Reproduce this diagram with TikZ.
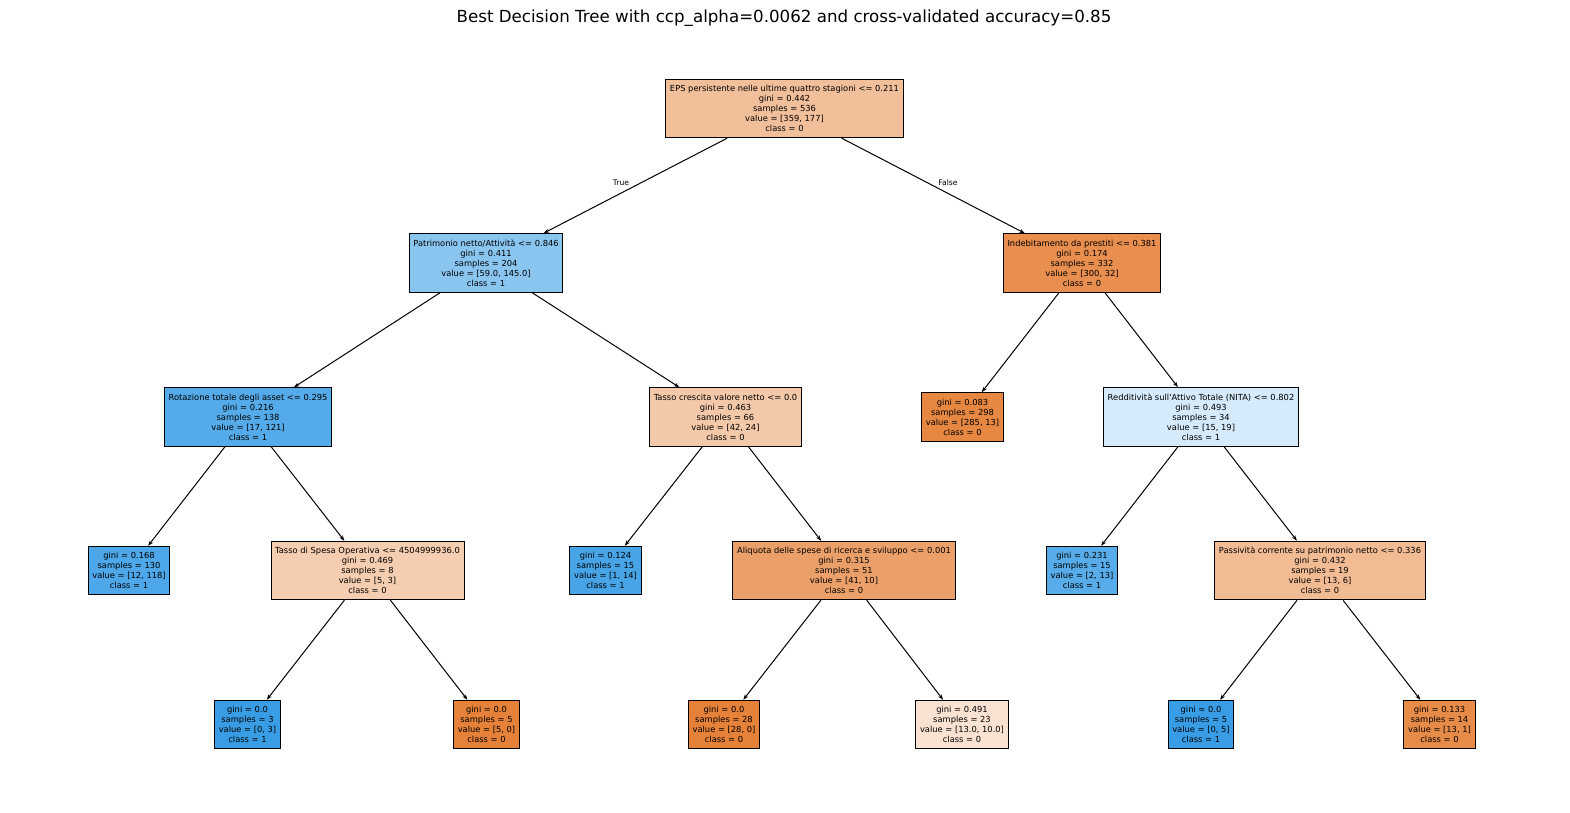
\documentclass[tikz,border=0pt]{standalone}
\usepackage{fontspec}
\setmainfont{DejaVu Sans}[Ligatures=TeXOff]
\usepackage{xcolor}
\definecolor{cZero}{HTML}{E58139}
\definecolor{cOne}{HTML}{399DE5}
\usepackage{tikz}
\usetikzlibrary{arrows.meta}
\tikzset{
  node-box/.style={draw=black,line width=0.72pt,align=center,
    font=\fontsize{6}{7.2}\selectfont,inner xsep=3pt,inner ysep=4.3pt},
  node-zero/.style={fill=cZero!#1!white},
  node-one/.style={fill=cOne!#1!white},
  arrow/.style={-{Stealth[length=1.4mm,width=1mm]},line width=0.72pt},
  edge-label/.style={font=\fontsize{5.5}{6.6}\selectfont},
}

\begin{document}
\begin{tikzpicture}[x=0.72pt,y=-0.72pt]
  \useasboundingbox (0,0) rectangle (1570,812);
  \node[font=\fontsize{12}{14.4}\selectfont] (title) at (784,18)
    {Best Decision Tree with ccp\_alpha=0.0062 and cross-validated accuracy=0.85};
  % livello 0
  \node[node-box,node-zero=50.7] (eps) at (784.5,108.5)
    {EPS persistente nelle ultime quattro stagioni <= 0.211\\gini = 0.442\\samples = 536\\value = [359, 177]\\class = 0};
  % livello 1
  \node[node-box,node-one=59.3] (pat) at (486,263)
    {Patrimonio netto/Attività <= 0.846\\gini = 0.411\\samples = 204\\value = [59.0, 145.0]\\class = 1};
  \node[node-box,node-zero=89.3] (ind) at (1082,263)
    {Indebitamento da prestiti <= 0.381\\gini = 0.174\\samples = 332\\value = [300, 32]\\class = 0};
  % livello 2
  \node[node-box,node-one=85.9] (rot) at (248,417)
    {Rotazione totale degli asset <= 0.295\\gini = 0.216\\samples = 138\\value = [17, 121]\\class = 1};
  \node[node-box,node-zero=42.9] (tcv) at (725.5,417)
    {Tasso crescita valore netto <= 0.0\\gini = 0.463\\samples = 66\\value = [42, 24]\\class = 0};
  \node[node-box,node-zero=95.4] (l298) at (962.5,417)
    {gini = 0.083\\samples = 298\\value = [285, 13]\\class = 0};
  \node[node-box,node-one=21.1] (red) at (1201,417)
    {Redditività sull'Attivo Totale (NITA) <= 0.802\\gini = 0.493\\samples = 34\\value = [15, 19]\\class = 1};
  % livello 3
  \node[node-box,node-one=89.8] (l130) at (129,570.5)
    {gini = 0.168\\samples = 130\\value = [12, 118]\\class = 1};
  \node[node-box,node-zero=40] (tso) at (367.5,570.5)
    {Tasso di Spesa Operativa <= 4504999936.0\\gini = 0.469\\samples = 8\\value = [5, 3]\\class = 0};
  \node[node-box,node-one=92.9] (l15a) at (605.5,570.5)
    {gini = 0.124\\samples = 15\\value = [1, 14]\\class = 1};
  \node[node-box,node-zero=75.6] (ali) at (844,570.5)
    {Aliquota delle spese di ricerca e sviluppo <= 0.001\\gini = 0.315\\samples = 51\\value = [41, 10]\\class = 0};
  \node[node-box,node-one=84.6] (l15b) at (1082,570.5)
    {gini = 0.231\\samples = 15\\value = [2, 13]\\class = 1};
  \node[node-box,node-zero=53.8] (pas) at (1320,570.5)
    {Passività corrente su patrimonio netto <= 0.336\\gini = 0.432\\samples = 19\\value = [13, 6]\\class = 0};
  % livello 4
  \node[node-box,node-one=100] (l3) at (247.5,724.5)
    {gini = 0.0\\samples = 3\\value = [0, 3]\\class = 1};
  \node[node-box,node-zero=100] (l5a) at (486.5,724.5)
    {gini = 0.0\\samples = 5\\value = [5, 0]\\class = 0};
  \node[node-box,node-zero=100] (l28) at (724,724.5)
    {gini = 0.0\\samples = 28\\value = [28, 0]\\class = 0};
  \node[node-box,node-zero=23.1] (l23) at (962,724.5)
    {gini = 0.491\\samples = 23\\value = [13.0, 10.0]\\class = 0};
  \node[node-box,node-one=100] (l5b) at (1201,724.5)
    {gini = 0.0\\samples = 5\\value = [0, 5]\\class = 1};
  \node[node-box,node-zero=92.3] (l14) at (1439.5,724.5)
    {gini = 0.133\\samples = 14\\value = [13, 1]\\class = 0};
  % archi
  \draw[arrow] (eps) -- (pat);
  \draw[arrow] (eps) -- (ind);
  \draw[arrow] (pat) -- (rot);
  \draw[arrow] (pat) -- (tcv);
  \draw[arrow] (ind) -- (l298);
  \draw[arrow] (ind) -- (red);
  \draw[arrow] (rot) -- (l130);
  \draw[arrow] (rot) -- (tso);
  \draw[arrow] (tcv) -- (l15a);
  \draw[arrow] (tcv) -- (ali);
  \draw[arrow] (red) -- (l15b);
  \draw[arrow] (red) -- (pas);
  \draw[arrow] (tso) -- (l3);
  \draw[arrow] (tso) -- (l5a);
  \draw[arrow] (ali) -- (l28);
  \draw[arrow] (ali) -- (l23);
  \draw[arrow] (pas) -- (l5b);
  \draw[arrow] (pas) -- (l14);
  \node[edge-label] (true) at (621,183) {True};
  \node[edge-label] (false) at (948,183) {False};
\end{tikzpicture}
\end{document}
